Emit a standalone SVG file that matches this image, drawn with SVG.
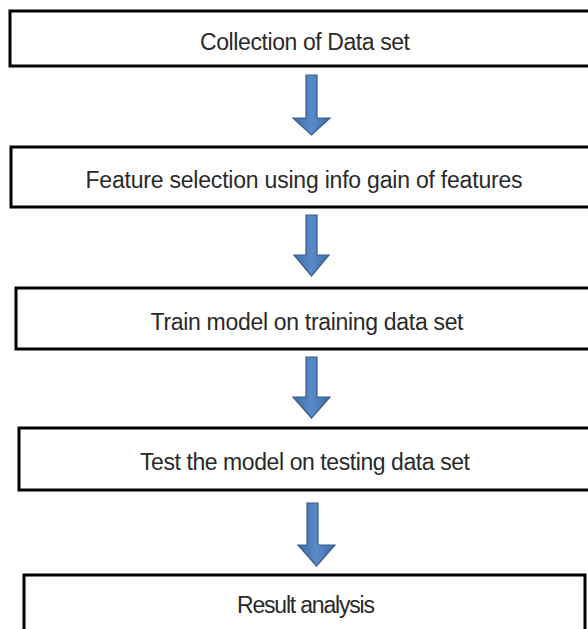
<svg xmlns="http://www.w3.org/2000/svg" width="588" height="629" viewBox="0 0 588 629">
<style>
.box{fill:#ffffff;stroke:#000000;stroke-width:3}
.lbl{font-family:"Liberation Sans",Arial,sans-serif;font-size:23px;fill:#2a2a2a;text-anchor:middle}
.arr{fill:url(#ag);stroke:#385d8a;stroke-width:1.2;stroke-linejoin:miter}
</style>
<defs>
<linearGradient id="ag" x1="0" y1="0" x2="1" y2="0">
<stop offset="0" stop-color="#3d6ca6"/>
<stop offset="0.5" stop-color="#5a8bc8"/>
<stop offset="1" stop-color="#3d6ca6"/>
</linearGradient>
</defs>
<rect x="0" y="0" width="588" height="629" fill="#ffffff"/>
<g id="connectors">
<path class="arr" d="M306,75 H317 V118 H330 L311.5,135 L293,118 H306 Z"/>
<path class="arr" d="M306,215 H317 V255 H329 L311.5,276 L294,255 H306 Z"/>
<path class="arr" d="M306,357 H317 V397 H330 L311.5,418 L293,397 H306 Z"/>
<path class="arr" d="M307,503 H318 V545 H335 L316.5,566 L298,545 H307 Z"/>
</g>
<g id="node1">
<rect class="box" x="10" y="11" width="585" height="55"/>
<text class="lbl" x="305" y="50" textLength="210">Collection of Data set</text>
</g>
<g id="node2">
<rect class="box" x="11" y="147" width="585" height="60"/>
<text class="lbl" x="304" y="188" textLength="437">Feature selection using info gain of features</text>
</g>
<g id="node3">
<rect class="box" x="16" y="288" width="580" height="61"/>
<text class="lbl" x="307" y="330" textLength="313">Train model on training data set</text>
</g>
<g id="node4">
<rect class="box" x="19" y="428" width="575" height="62"/>
<text class="lbl" x="305" y="470" textLength="330">Test the model on testing data set</text>
</g>
<g id="node5">
<rect class="box" x="24" y="575" width="561" height="60"/>
<text class="lbl" x="306" y="613" textLength="138">Result analysis</text>
</g>
</svg>
